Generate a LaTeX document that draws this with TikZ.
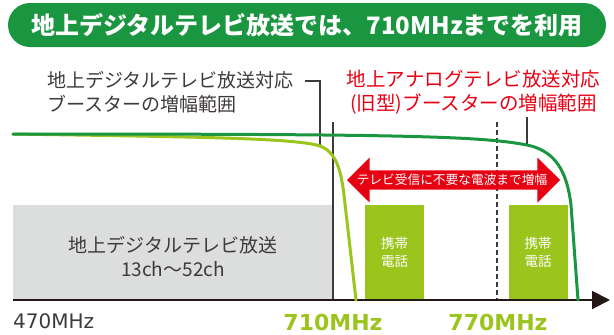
\documentclass[tikz,border=0pt]{standalone}
\usepackage{fontspec}
\setmainfont{Noto Sans CJK JP}
\newfontfamily\dejavu{DejaVu Sans}
\usetikzlibrary{arrows.meta,shapes.arrows}
\definecolor{tvgreen}{RGB}{26,150,64}
\definecolor{lime}{RGB}{155,196,28}
\definecolor{boxgray}{RGB}{220,221,221}
\definecolor{inkgray}{RGB}{62,58,57}
\definecolor{axisblack}{RGB}{35,24,21}
\definecolor{alert}{RGB}{230,0,18}
\tikzset{
	banner/.style={fill=tvgreen, text=white, rounded corners=22pt, minimum width=598pt, minimum height=44pt, inner sep=0pt, font=\fontsize{24}{28}\selectfont\bfseries},
	note/.style={inner sep=0pt, align=left, text=inkgray, font=\fontsize{19}{24}\selectfont},
	phone/.style={fill=lime, text=white, minimum width=59pt, minimum height=95pt, inner sep=0pt, align=center, font=\fontsize{13.5}{18}\selectfont},
	freq/.style={inner sep=0pt, text=lime, font=\dejavu\bfseries\fontsize{22}{26}\selectfont},
	guide/.style={draw=inkgray, line width=1.3pt},
	curve/.style={line width=3pt, line cap=round},
}

\begin{document}
\begin{tikzpicture}[x=1pt,y=-1pt]
	\useasboundingbox (0,0) rectangle (614,335);
	%TITLE
	\node[banner] (ttl) at (307,25) {地上デジタルテレビ放送では、710MHzまでを利用};
	
	%BLOCKS
	\node[fill=boxgray, minimum width=320pt, minimum height=95pt, inner sep=0pt] (digi) at (173,252.5) {};
	\node[note, align=center] (digitxt) at (173,257) {地上デジタルテレビ放送\\13ch～52ch};
	\node[phone] (ph1) at (394.5,252.5) {携帯\\電話};
	\node[phone] (ph2) at (538,252.5) {携帯\\電話};
	
	%LINES
	\coordinate (o) at (13,300);
	\coordinate (end) at (610,300);
	\coordinate (tick) at (305,81);
	\coordinate (digtop) at (320,81);
	\coordinate (digfoot) at (320,146);
	\coordinate (cut) at (333,122);
	\coordinate (lim) at (497,122);
	\coordinate (anatop) at (527,117);
	\coordinate (anafoot) at (527,144);
	\draw[guide] (tick) -- (digtop) -- (digfoot);
	\draw[guide] (cut) -- (cut |- o);
	\draw[guide, dash pattern=on 5pt off 3pt] (lim) -- (lim |- o);
	\draw[guide] (anatop) -- (anafoot);
	\draw[line width=2pt, axisblack, -{Triangle[length=18pt,width=18pt]}] (o) -- (end);
	
	%CURVES
	\coordinate (start) at (13,134);
	\draw[curve, lime] (start) .. controls (200,137) and (295,138) .. (320,146)
		.. controls (336,152) and (341,170) .. (344,195) -- (356,300);
	\draw[curve, tvgreen] (start) .. controls (400,134) and (480,136) .. (527,145)
		.. controls (556,151) and (567,172) .. (571,205) -- (578,300);
	
	%ARROW
	\node[double arrow, fill=alert, minimum height=213pt, inner xsep=0pt, inner ysep=9.5pt, double arrow head extend=13pt] (warn) at (453.5,180) {};
	\node[inner sep=0pt, text=white, font=\fontsize{12.7}{14}\selectfont] (warntxt) at (452,180) {テレビ受信に不要な電波まで増幅};
	
	%LABELS
	\node[note, anchor=west] (booster) at (47,92) {地上デジタルテレビ放送対応\\ブースターの増幅範囲};
	\node[note, align=center, text=alert, font=\fontsize{19.5}{24}\selectfont] (analog) at (473.5,92) {地上アナログテレビ放送対応\\(旧型)ブースターの増幅範囲};
	\node[inner sep=0pt, text=inkgray, font=\dejavu\fontsize{20}{24}\selectfont, anchor=west] (f470) at (13,321) {470MHz};
	\node[freq] (f710) at (333,322) {710MHz};
	\node[freq] (f770) at (498,322) {770MHz};
\end{tikzpicture}
\end{document}
